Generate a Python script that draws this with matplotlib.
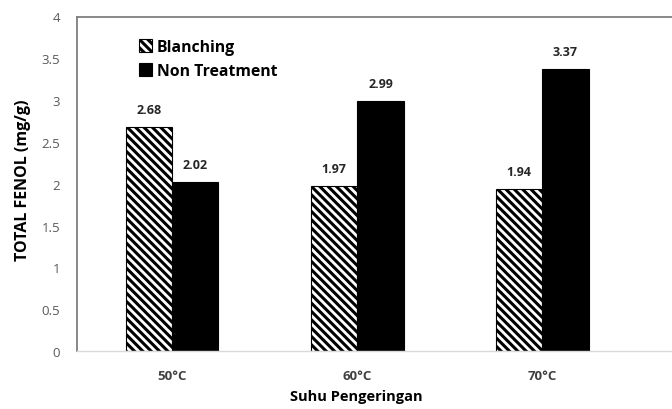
import matplotlib
matplotlib.use("Agg")
import matplotlib.pyplot as plt
import numpy as np

categories = ["50°C", "60°C", "70°C"]
blanching = [2.68, 1.97, 1.94]
non_treatment = [2.02, 2.99, 3.37]
series_names = ["Blanching", "Non Treatment"]
yticks = [0, 0.5, 1, 1.5, 2, 2.5, 3, 3.5, 4]
ytick_labels = ["0", "0.5", "1", "1.5", "2", "2.5", "3", "3.5", "4"]

plt.rcParams['font.family'] = ['Open Sans', 'DejaVu Sans']
plt.rcParams['hatch.linewidth'] = 2.2
plt.rcParams['hatch.color'] = 'black'

W, H = 672, 410
fig = plt.figure(figsize=(W / 100, H / 100), dpi=100)
ax = fig.add_axes([77 / W, (H - 352) / H, 1 - 77 / W, (352 - 17.5) / H])

x = np.arange(len(categories))
bw = 0.25
b1 = ax.bar(x - bw / 2, blanching, bw, facecolor='white', edgecolor='black',
            hatch='\\\\\\\\', linewidth=0.8, label=series_names[0])
b2 = ax.bar(x + bw / 2, non_treatment, bw, facecolor='black', edgecolor='black',
            linewidth=0.8, label=series_names[1])

for bars, vals in ((b1, blanching), (b2, non_treatment)):
    for r, v in zip(bars, vals):
        ax.annotate(f"{v:.2f}", (r.get_x() + r.get_width() / 2, v),
                    xytext=(0, 8), textcoords='offset points',
                    ha='center', va='bottom', fontsize=9, fontweight='bold',
                    color='#262626')

ax.set_xlim(-0.514, 2.70)
ax.set_ylim(0, 4)
ax.set_yticks(yticks)
ax.set_yticklabels(ytick_labels, fontsize=9.5, color='#595959')
ax.set_xticks(x)
ax.set_xticklabels(categories, fontsize=9.5, fontweight='bold', color='#404040')
ax.tick_params(axis='both', length=0)
ax.tick_params(axis='y', pad=12)
ax.tick_params(axis='x', pad=13)

for s in ['left', 'top']:
    ax.spines[s].set_color('#7f7f7f')
    ax.spines[s].set_linewidth(1.3)
ax.spines['bottom'].set_color('#d9d9d9')
ax.spines['bottom'].set_linewidth(1.0)
ax.spines['right'].set_visible(False)

fig.text(23 / W, 1 - 180 / H, "TOTAL FENOL (mg/g)", rotation=90, ha='center', va='center',
         fontsize=11.5, fontweight='bold', color='black')
fig.text(356 / W, 1 - 397 / H, "Suhu Pengeringan", ha='center', va='center',
         fontsize=10.5, fontweight='bold', color='black')

leg = fig.legend(handles=[b1, b2], labels=series_names, loc='upper left',
                 bbox_to_anchor=(139 / W, 1 - 40 / H), bbox_transform=fig.transFigure,
                 frameon=False, prop={'size': 11.3, 'weight': 'bold'},
                 handlelength=0.85, handleheight=0.85,
                 handletextpad=0.3, labelspacing=0.5, borderaxespad=0, borderpad=0)
for h in leg.legend_handles:
    h.set_linewidth(0.8)

fig.savefig("out.png", dpi=100, facecolor='white')
